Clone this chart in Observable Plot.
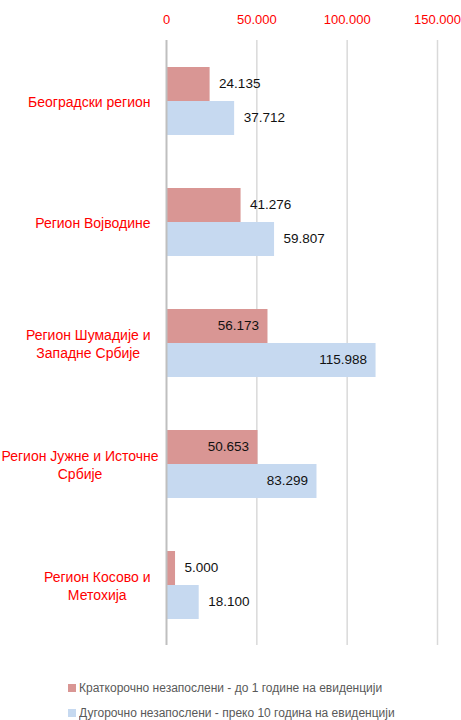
<!DOCTYPE html>
<html>
<head>
<meta charset="utf-8">
<script src="https://cdn.jsdelivr.net/npm/d3@7"></script>
<script src="https://cdn.jsdelivr.net/npm/@observablehq/plot@0.6"></script>
<style>
  body { margin: 0; background: #fff; font-family: "Liberation Sans", Arial, sans-serif; }
  #legend { padding-left: 68px; margin-top: 16px; }
</style>
</head>
<body>
<div id="chart"></div>
<div id="legend"></div>
<script>
const categories = ["Београдски регион", "Регион Војводине", "Регион Шумадије и Западне Србије", "Регион Јужне и Источне Србије", "Регион Косово и Метохија"];
const categoryLines = [["Београдски регион"], ["Регион Војводине"], ["Регион Шумадије и", "Западне Србије"], ["Регион Јужне и Источне", "Србије"], ["Регион Косово и", "Метохија"]];
const seriesNames = ["Краткорочно незапослени - до 1 године на евиденцији", "Дугорочно незапослени - преко 10 година на евиденцији"];
const shortTerm = [24135, 41276, 56173, 50653, 5000];
const longTerm = [37712, 59807, 115988, 83299, 18100];
const shortInside = [false, false, true, true, false];
const longInside = [false, false, true, true, false];
const xTicks = [0, 50000, 100000, 150000];
const colors = ["#d99694", "#c6d9f0"];

const rows = [];
categories.forEach((c, i) => {
  rows.push({category: c, series: seriesNames[0], value: shortTerm[i], inside: shortInside[i]});
  rows.push({category: c, series: seriesNames[1], value: longTerm[i], inside: longInside[i]});
});

const loc = d3.formatLocale({decimal: ",", thousands: ".", grouping: [3], currency: ["", ""]});
const fmt = loc.format(",");

const FONT = '"Liberation Sans", Arial, sans-serif';
const FS = 14;
const ctx = document.createElement("canvas").getContext("2d");
ctx.font = `${FS}px ${FONT}`;
function blockWidth(lines) { return Math.max(...lines.map(l => ctx.measureText(l).width)); }

const labelMarks = categories.map((c, i) => {
  const w = blockWidth(categoryLines[i]);
  const center = Math.max(150 - w / 2, w / 2 + 1);
  return Plot.text([c], {
    fy: d => d,
    frameAnchor: "left",
    textAnchor: "middle",
    dx: center - 166,
    text: () => categoryLines[i].join("\n"),
    fill: "#ff0000",
    fontSize: FS,
    lineHeight: 1.35
  });
});

const plot = Plot.plot({
  width: 461,
  height: 660,
  marginLeft: 166,
  marginRight: 24,
  marginTop: 38,
  marginBottom: 13,
  style: {fontFamily: FONT, fontSize: FS + "px", background: "#fff"},
  x: {domain: [0, 150000], axis: null},
  fy: {domain: categories, padding: 0, axis: null},
  y: {domain: seriesNames, paddingInner: 0, paddingOuter: 0.74, axis: null},
  color: {domain: seriesNames, range: colors},
  marks: [
    Plot.ruleX(xTicks.slice(1), {stroke: "#d9d9d9", strokeWidth: 1.5}),
    Plot.barX(rows, {fy: "category", y: "series", x: "value", fill: "series"}),
    Plot.ruleX([0], {stroke: "#bfbfbf", strokeWidth: 2}),
    Plot.text(rows.filter(d => !d.inside), {fy: "category", y: "series", x: "value", text: d => fmt(d.value), textAnchor: "start", dx: 9, dy: -1, fill: "#111", fontSize: 13.5}),
    Plot.text(rows.filter(d => d.inside), {fy: "category", y: "series", x: "value", text: d => fmt(d.value), textAnchor: "end", dx: -9, dy: -1, fill: "#111", fontSize: 13.5}),
    Plot.axisX({anchor: "top", ticks: xTicks, tickSize: 0, tickPadding: 17, tickFormat: d => fmt(d), color: "#ff0000", fontSize: 13, label: null}),
    ...labelMarks
  ]
});
document.getElementById("chart").append(plot);

const legend = plot.legend("color", {legend: "swatches", columns: 1, swatchSize: 8, swatchWidth: 8, swatchHeight: 8, marginLeft: 0});
legend.style.fontFamily = FONT;
legend.style.fontSize = "12px";
legend.style.color = "#595959";
legend.querySelectorAll(":scope > div").forEach(d => { d.style.lineHeight = "24px"; d.style.height = "24px"; });
legend.querySelectorAll("svg").forEach(s => { s.style.marginRight = "3px"; });
document.getElementById("legend").append(legend);
</script>
</body>
</html>
